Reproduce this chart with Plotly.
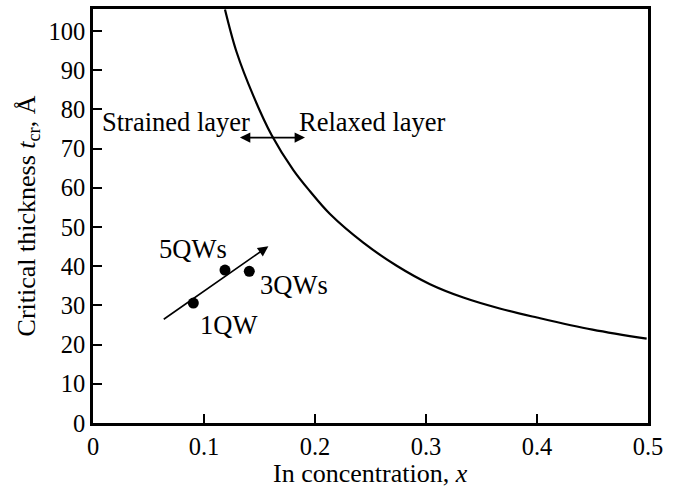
import plotly.graph_objects as go

# Critical thickness curve
curve_x = [0.1189, 0.1295, 0.1444, 0.1610, 0.1805, 0.1955, 0.2135, 0.2435, 0.2736,
           0.3036, 0.3336, 0.3664, 0.40, 0.45, 0.4988]
curve_y = [105.5, 94.5, 83.5, 73.4, 64.5, 59.1, 53.3, 46.0, 40.1,
           35.4, 32.0, 29.2, 26.9, 23.8, 21.5]

# Measured quantum-well samples
qw_labels = ["1QW", "5QWs", "3QWs"]
qw_x = [0.0904, 0.1189, 0.1408]
qw_y = [30.6, 39.0, 38.7]

# Trend arrow (tail -> head)
trend_x = [0.0624, 0.158]
trend_y = [26.2, 45.1]

# Double arrow across boundary
boundary_x = [0.131, 0.191]
boundary_y = [72.8, 72.8]

x_ticks = [0, 0.1, 0.2, 0.3, 0.4, 0.5]
x_ticktext = ["0", "0.1", "0.2", "0.3", "0.4", "0.5"]
y_ticks = [0, 10, 20, 30, 40, 50, 60, 70, 80, 90, 100]

FONT = "Liberation Serif"
FS = 24.5
FS_TXT = 26.5

fig = go.Figure()
fig.add_trace(go.Scatter(x=curve_x, y=curve_y, mode="lines",
                         line=dict(color="black", width=2.2, shape="spline", smoothing=1.0),
                         showlegend=False, hoverinfo="skip"))
fig.add_trace(go.Scatter(x=qw_x, y=qw_y, mode="markers",
                         marker=dict(color="black", size=11),
                         showlegend=False))

# Trend arrow
fig.add_annotation(x=trend_x[1], y=trend_y[1], ax=trend_x[0], ay=trend_y[0],
                   xref="x", yref="y", axref="x", ayref="y", text="",
                   showarrow=True, arrowhead=2, arrowsize=1.3, arrowwidth=1.6,
                   arrowcolor="black")
# Boundary double arrow
fig.add_annotation(x=boundary_x[1], y=boundary_y[1], ax=boundary_x[0], ay=boundary_y[0],
                   xref="x", yref="y", axref="x", ayref="y", text="",
                   showarrow=True, arrowhead=2, startarrowhead=2, arrowside="end+start",
                   arrowsize=1.3, startarrowsize=1.3, arrowwidth=1.6, arrowcolor="black")

texts = [
    ("Strained layer", 0.0748, 76.8),
    ("Relaxed layer", 0.252, 76.8),
    ("5QWs", 0.0903, 44.5),
    ("3QWs", 0.181, 35.3),
    ("1QW", 0.1219, 24.9),
]
for t, x, y in texts:
    fig.add_annotation(x=x, y=y, xref="x", yref="y", text=t, showarrow=False,
                       font=dict(family=FONT, size=FS_TXT, color="black"))

# X axis title
fig.add_annotation(x=0.5, y=0, xref="paper", yref="paper", xanchor="center", yanchor="top",
                   yshift=-35, borderpad=0, text="In concentration, <i>x</i>", showarrow=False,
                   font=dict(family=FONT, size=26, color="black"))

axis_common = dict(showgrid=False, zeroline=False, showline=True, linecolor="black",
                   linewidth=2.5, mirror=True, ticks="inside", ticklen=9, tickwidth=1.5,
                   tickcolor="black",
                   tickfont=dict(family=FONT, size=FS, color="black"))

fig.update_xaxes(range=[0, 0.5], tickvals=x_ticks, ticktext=x_ticktext, **axis_common)
fig.update_yaxes(range=[0, 105.6], tickvals=y_ticks,
                 title=dict(text="Critical thickness <i>t</i><sub>cr</sub>, Å",
                            font=dict(family=FONT, size=26, color="black"), standoff=6),
                 **axis_common)

fig.update_layout(width=673, height=487, margin=dict(l=93, r=25, t=6, b=64),
                  paper_bgcolor="white", plot_bgcolor="white",
                  font=dict(family=FONT, size=FS, color="black"))

fig.write_html("out.html")
